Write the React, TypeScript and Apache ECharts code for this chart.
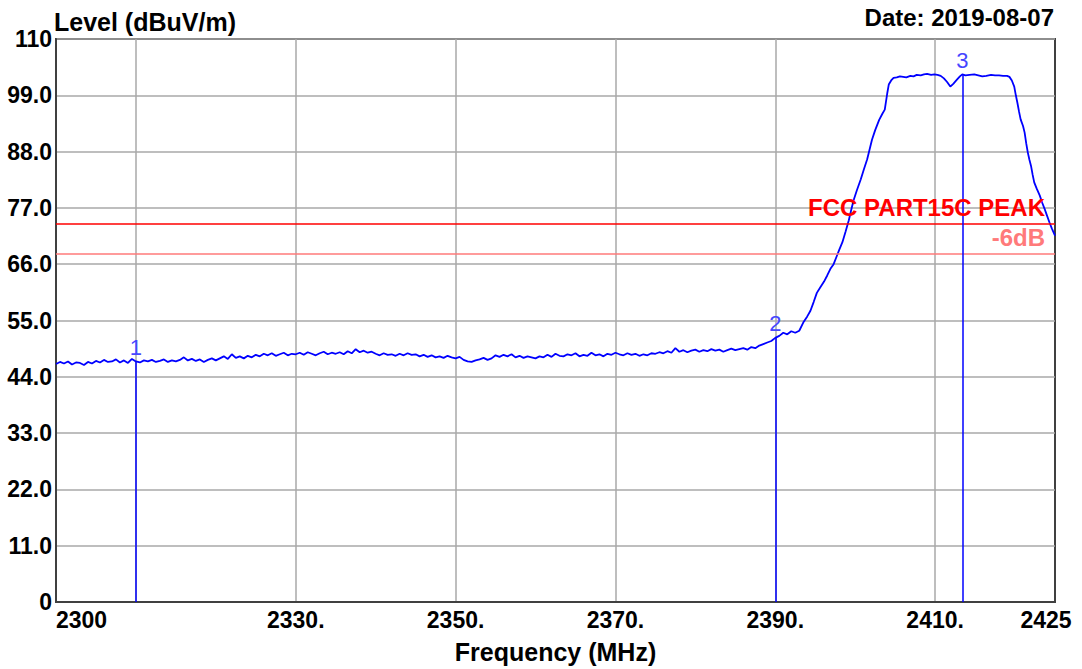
import React, { useEffect, useRef } from "react";
import * as echarts from "echarts";

// Sweep grid of the flat noise-floor part of the trace
const SWEEP_START = 2300;
const SWEEP_STEP = 0.5;
// Levels (dBuV/m) read from 2300.0 to 2392.5 MHz, every 0.5 MHz
const noiseLevels = [
  46.5, 46.9, 46.6, 47.0, 46.4, 46.8, 46.7, 46.3, 46.9, 46.6,
  47.1, 46.8, 47.3, 46.9, 47.0, 47.4, 46.8, 47.2, 46.7, 47.5,
  47.0, 46.8, 47.2, 47.0, 47.3, 46.9, 47.1, 47.4, 46.9, 47.2,
  47.0, 47.3, 47.8, 47.2, 47.5, 47.1, 47.4, 46.9, 47.3, 47.6,
  47.2, 47.6, 48.0, 47.5, 48.4, 47.7, 48.0, 47.6, 48.1, 47.8,
  48.3, 48.0, 48.5, 48.2, 48.6, 48.1, 48.4, 48.7, 48.2, 48.5,
  48.4, 48.7, 48.3, 48.8, 48.5, 48.2, 48.6, 48.9, 48.4, 48.7,
  48.5, 48.8, 48.4, 49.0, 48.6, 49.4, 48.8, 49.1, 48.7, 48.9,
  48.5, 48.2, 48.6, 48.3, 48.4, 48.1, 48.5, 48.2, 48.6, 48.3,
  48.4, 48.0, 48.3, 47.9, 48.2, 47.8, 48.0, 47.7, 48.1, 47.8,
  47.6, 47.9, 47.3, 47.0, 46.9, 47.2, 47.4, 47.7, 47.3, 47.6,
  48.2, 47.9, 48.3, 48.0, 48.4, 47.8, 48.1, 47.7, 48.0, 47.8,
  47.6, 48.0, 47.8, 48.3, 47.9, 48.5, 48.1, 48.0, 48.4, 48.2,
  48.6, 48.0, 48.3, 48.1, 48.7, 48.2, 48.4, 48.0, 48.5, 48.3,
  48.7, 48.4, 48.2, 48.6, 48.3, 48.5, 48.1, 48.4, 48.2, 48.6,
  48.5, 48.8, 48.6, 49.0, 48.7, 49.6, 48.9, 49.2, 48.8, 49.1,
  49.3, 48.9, 49.2, 49.0, 49.4, 49.1, 49.3, 48.9, 49.2, 49.5,
  49.2, 49.4, 49.6, 49.3, 49.8, 49.6, 50.1, 50.4, 50.7, 51.0,
  51.6, 52.0, 52.6, 52.3, 52.9, 52.6,
];

// Band edge and in-band part of the trace
const bandFreqs = [
  2393.0, 2393.5, 2394.0, 2394.4, 2394.8, 2395.2, 2395.6, 2396.1, 2396.5, 2396.9,
  2397.3, 2397.7, 2398.0, 2398.4, 2398.8, 2399.2, 2399.5, 2399.8, 2400.2, 2400.7,
  2401.1, 2401.5, 2401.8, 2402.1, 2402.5, 2403.0, 2403.4, 2403.7, 2404.0, 2404.2,
  2404.5, 2404.8, 2405.2, 2405.6, 2406.0, 2406.4, 2406.9, 2407.3, 2407.7, 2408.2,
  2408.6, 2409.0, 2409.5, 2409.9, 2410.3, 2410.7, 2411.1, 2411.5, 2411.9, 2412.3,
  2412.7, 2413.1, 2413.4, 2413.8, 2414.3, 2414.9, 2415.4, 2415.9, 2416.4, 2417.0,
  2417.5, 2418.0, 2418.5, 2419.0, 2419.3, 2419.6, 2419.9, 2420.1, 2420.3, 2420.5,
  2420.7, 2421.0, 2421.2, 2421.4, 2421.6, 2421.8, 2422.0, 2422.2, 2422.4, 2422.7,
  2423.1, 2423.4, 2423.7, 2424.0, 2424.3, 2424.6, 2425.0,
];
const bandLevels = [
  53.0, 54.6, 55.8, 56.9, 58.6, 60.4, 61.4, 62.6, 63.8, 65.1,
  66.0, 67.6, 68.8, 70.3, 72.4, 74.6, 76.6, 78.5, 80.4, 82.6,
  84.6, 86.5, 88.4, 90.3, 92.2, 94.2, 95.4, 96.2, 99.3, 101.1,
  101.9, 102.4, 102.5, 102.7, 102.6, 102.5, 102.8, 102.7, 103.0, 102.9,
  103.1, 103.2, 103.0, 103.1, 103.0, 102.8, 102.3, 101.6, 100.7, 101.3,
  102.0, 102.7, 103.1, 102.9, 103.0, 103.1, 102.9, 102.7, 102.8, 103.0,
  102.9, 102.9, 102.8, 102.8, 102.6, 101.9, 100.7, 99.0, 97.5, 95.8,
  94.3, 93.0, 91.7, 89.6, 87.8, 86.4, 85.2, 83.5, 82.0, 80.8,
  79.4, 78.0, 76.8, 75.5, 74.2, 73.0, 71.6,
];

// Markers
const markerNames = ["1", "2", "3"];
const markerFreqs = [2310, 2390, 2413.4];
const markerLevels = [47.0, 51.6, 103.1];

// Limit lines
const limitNames = ["FCC PART15C PEAK", "-6dB"];
const limitLevels = [74, 68];
const limitColors = ["#ff0000", "#ff7a7a"];

// Axes
const xMin = 2300;
const xMax = 2425;
const xGridValues = [2310, 2330, 2350, 2370, 2390, 2410];
const xLabelValues = [2300, 2330, 2350, 2370, 2390, 2410, 2425];
const yMin = 0;
const yMax = 110;
const yStep = 11;

const FONT = "'Liberation Sans', Arial, sans-serif";

export default function App() {
  const ref = useRef<HTMLDivElement>(null);

  useEffect(() => {
    if (!ref.current) return;
    const chart = echarts.init(ref.current, null, { renderer: "svg" });

    const trace: [number, number][] = noiseLevels
      .map((v, i) => [SWEEP_START + i * SWEEP_STEP, v] as [number, number])
      .concat(bandFreqs.map((f, i) => [f, bandLevels[i]] as [number, number]));

    const tickFont = { fontFamily: FONT, fontSize: 23, fontWeight: "bold" as const, color: "#000" };

    chart.setOption({
      animation: false,
      title: [
        {
          text: "Level (dBuV/m)",
          left: 54,
          top: 9,
          padding: 0,
          textStyle: { ...tickFont, fontSize: 25 },
        },
        {
          text: "Date: 2019-08-07",
          right: 28,
          top: 5,
          padding: 0,
          textStyle: { ...tickFont, fontSize: 24 },
        },
      ],
      grid: {
        left: 56,
        right: 27,
        top: 39,
        bottom: 64,
        show: true,
        borderColor: "#404040",
        borderWidth: 2,
        backgroundColor: "#fff",
      },
      xAxis: {
        type: "value",
        min: xMin,
        max: xMax,
        name: "Frequency (MHz)",
        nameLocation: "middle",
        nameGap: 37,
        nameTextStyle: { ...tickFont, fontSize: 25 },
        axisLine: { show: true, lineStyle: { color: "#404040", width: 2 } },
        axisTick: { show: false, customValues: xGridValues },
        splitLine: { show: true, lineStyle: { color: "#a8a8a8", width: 1.5 } },
        axisLabel: {
          customValues: xLabelValues,
          margin: 6,
          ...tickFont,
          formatter: (v: number) => {
            if (v === xMin) return "{l|" + v + "}";
            if (v === xMax) return "{r|" + v + "}";
            return "{c|" + v + ".}";
          },
          rich: {
            l: { ...tickFont, padding: [0, 0, 0, 51] },
            r: { ...tickFont, padding: [0, 18, 0, 0] },
            c: { ...tickFont },
          },
        },
      },
      yAxis: {
        type: "value",
        min: yMin,
        max: yMax,
        interval: yStep,
        axisLine: { show: true, lineStyle: { color: "#404040", width: 2 } },
        axisTick: { show: false },
        splitLine: { show: true, lineStyle: { color: "#a8a8a8", width: 1.5 } },
        axisLabel: {
          margin: 4,
          ...tickFont,
          formatter: (v: number) => (v === yMin || v === yMax ? String(v) : v.toFixed(1)),
        },
      },
      series: [
        {
          name: "limits",
          type: "line",
          data: [],
          z: 2,
          markLine: {
            silent: true,
            symbol: ["none", "none"],
            animation: false,
            data: limitLevels.map((lv, i) => ({
              yAxis: lv,
              lineStyle: { color: limitColors[i], width: 1.5, type: "solid" },
              label: {
                show: true,
                position: "insideEndTop",
                formatter: limitNames[i],
                color: limitColors[i],
                fontFamily: FONT,
                fontSize: 24,
                fontWeight: "bold",
                distance: [10, 4],
              },
            })),
          },
        },
        {
          name: "trace",
          type: "line",
          data: trace,
          showSymbol: false,
          symbol: "none",
          z: 4,
          lineStyle: { color: "#0000ff", width: 1.8 },
        },
        {
          name: "markers",
          type: "line",
          data: [],
          z: 5,
          markLine: {
            silent: true,
            symbol: ["none", "none"],
            animation: false,
            lineStyle: { color: "#0000ff", width: 1.5, type: "solid" },
            label: {
              show: true,
              position: "end",
              distance: 3,
              color: "#4646ff",
              fontFamily: FONT,
              fontSize: 22,
            },
            data: markerFreqs.map((f, i) => [
              { coord: [f, yMin], label: { formatter: markerNames[i] } },
              { coord: [f, markerLevels[i]] },
            ]),
          },
        },
      ],
    });

    return () => chart.dispose();
  }, []);

  return (
    <div
      ref={ref}
      style={{ position: "fixed", left: 0, top: 0, width: 1082, height: 669, background: "#fff" }}
    />
  );
}
